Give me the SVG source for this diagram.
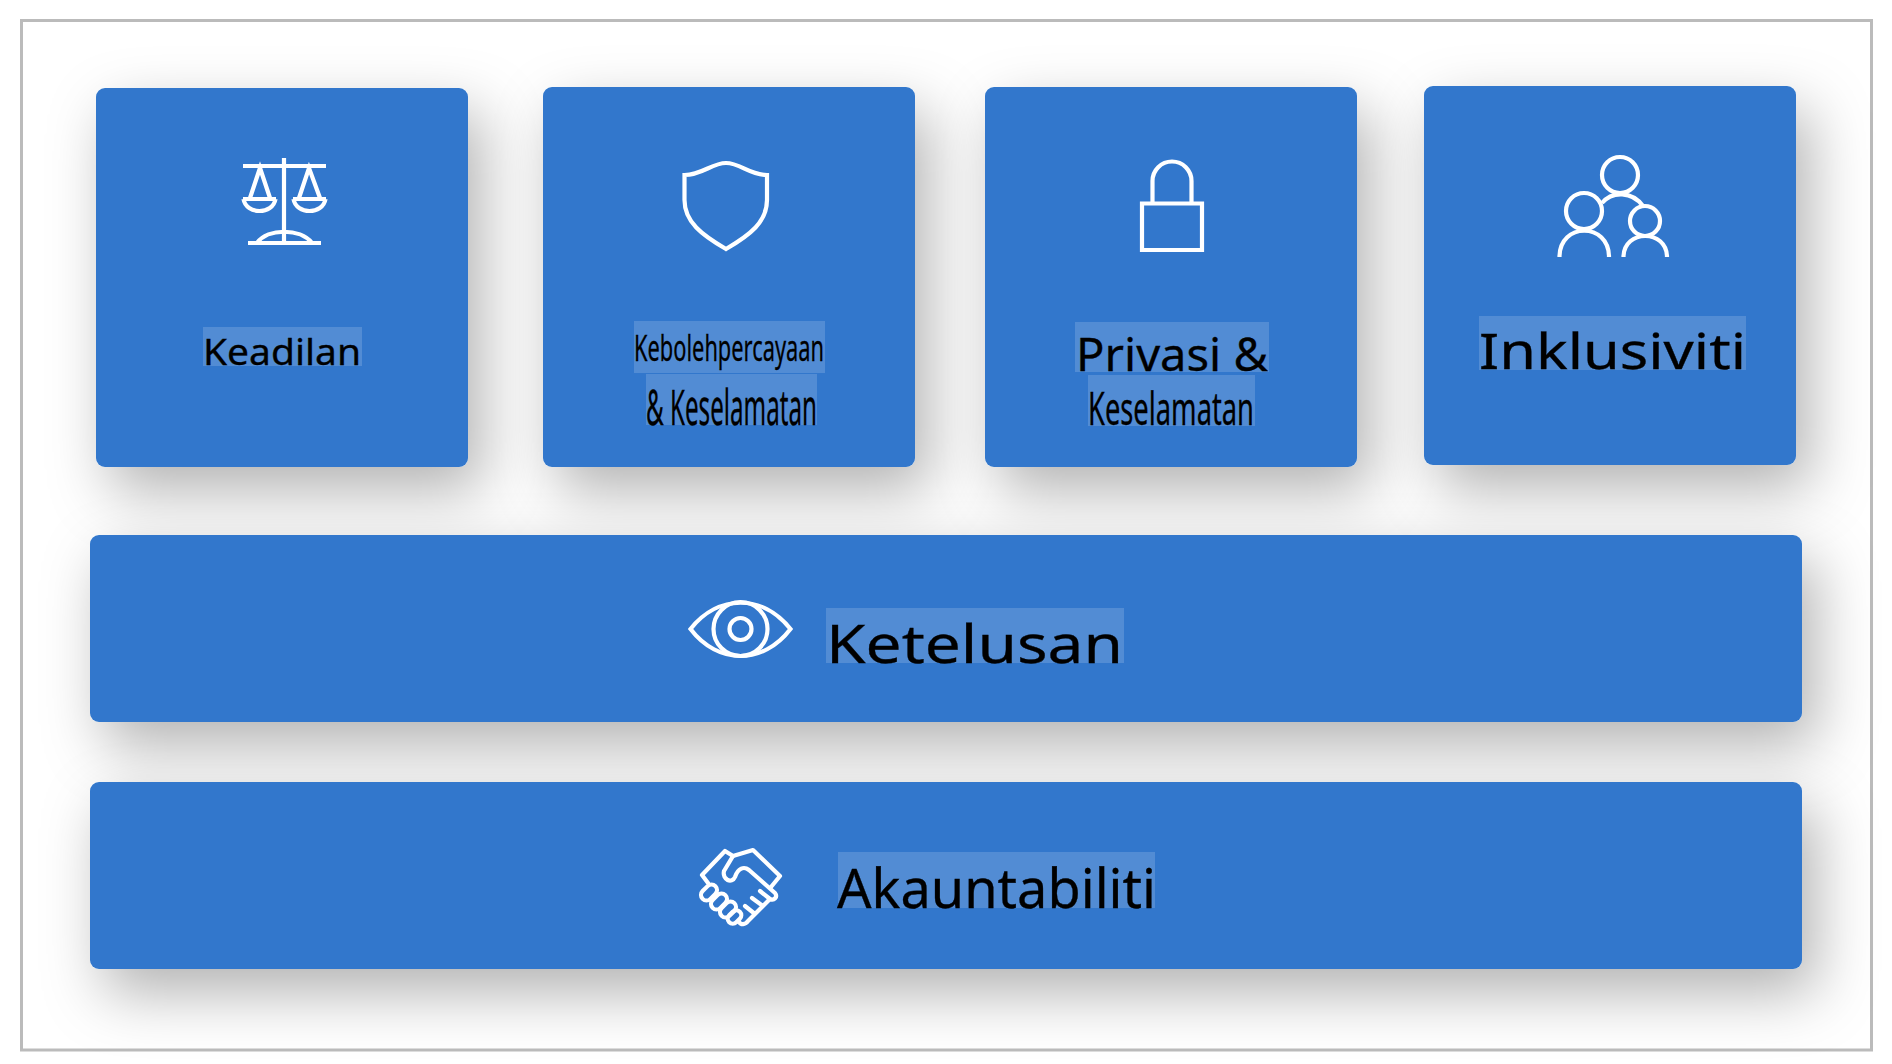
<svg xmlns="http://www.w3.org/2000/svg" width="1892" height="1064" viewBox="0 0 1892 1064">
<defs>
<filter id="sh" x="-30%" y="-60%" width="160%" height="280%"><feDropShadow dx="14" dy="24" stdDeviation="30" flood-color="#000" flood-opacity="0.3"/></filter>
</defs>
<style>
.card{fill:#3177cc;filter:url(#sh)}
.hl{fill:#fff;fill-opacity:.16}
.ic{fill:none;stroke:#fff;stroke-width:4.2}
text{font-family:"Noto Sans","Open Sans",sans-serif;fill:#000;stroke:#000;stroke-width:.3}
</style>
<rect width="1892" height="1064" fill="#fff"/>
<rect x="21.500" y="20.500" width="1850" height="1029.500" fill="none" stroke="#bbb" stroke-width="3"/>
<g id="keadilan">
<rect class="card" x="96" y="88" width="372" height="379" rx="9"/>
<rect class="hl" x="203" y="327" width="159" height="39"/>
<path class="ic" d="M243 166H326M284 158V242M248 243H321M257 243C268 228 300 228 312 243M243 199H276M293 199H326M243.500 199C246 215 273 215 275.500 199M293.500 199C296 215 323 215 325.500 199M250 198L260 168L270 198M299 198L309 168L320 198"/>
<text x="203" y="365" font-size="36" textLength="158" lengthAdjust="spacingAndGlyphs">Keadilan</text>
</g>
<g id="kebolehpercayaan">
<rect class="card" x="543" y="87" width="372" height="380" rx="9"/>
<rect class="hl" x="634" y="321" width="191" height="52"/>
<rect class="hl" x="646" y="374" width="171" height="51"/>
<path class="ic" d="M684.500 175C702 175 712 163 726 163C740 163 750 175 767 175V200C767 222 750 235 726 249C702 235 684.500 222 684.500 200Z"/>
<text x="634" y="361" font-size="37" textLength="190" lengthAdjust="spacingAndGlyphs">Kebolehpercayaan</text>
<text x="646" y="425" font-size="49" textLength="171" lengthAdjust="spacingAndGlyphs">&amp; Keselamatan</text>
</g>
<g id="privasi">
<rect class="card" x="985" y="87" width="372" height="380" rx="9"/>
<rect class="hl" x="1075" y="322" width="194" height="50"/>
<rect class="hl" x="1088" y="375" width="167" height="51"/>
<path class="ic" d="M1142 203.500H1202V250H1142ZM1152.500 203V181A19.500 19.500 0 0 1 1191.500 181V203"/>
<text x="1076" y="371" font-size="45" textLength="192" lengthAdjust="spacingAndGlyphs">Privasi &amp;</text>
<text x="1088" y="425" font-size="45" textLength="166" lengthAdjust="spacingAndGlyphs">Keselamatan</text>
</g>
<g id="inklusiviti">
<rect class="card" x="1424" y="86" width="372" height="379" rx="9"/>
<rect class="hl" x="1479" y="316" width="267" height="54"/>
<g class="ic"><circle cx="1620" cy="175" r="18"/><circle cx="1584" cy="211" r="18"/><circle cx="1645" cy="221" r="15"/><path d="M1559.500 257C1559.500 222 1609 222 1609 257M1623.500 257C1623.500 229 1667 229 1667 257M1602 203C1612 191 1632 191 1643 206"/></g>
<text x="1479" y="369" font-size="49" textLength="267" lengthAdjust="spacingAndGlyphs">Inklusiviti</text>
</g>
<g id="ketelusan">
<rect class="card" x="90" y="535" width="1712" height="187" rx="9"/>
<rect class="hl" x="826" y="608" width="298" height="55"/>
<g class="ic"><path d="M690.500 629C718 594 763 594 790.500 629C763 665 718 665 690.500 629Z"/><circle cx="740.500" cy="629" r="27"/><circle cx="740.500" cy="629" r="11"/></g>
<text x="826" y="663" font-size="52" textLength="297" lengthAdjust="spacingAndGlyphs">Ketelusan</text>
</g>
<g id="akauntabiliti">
<rect class="card" x="90" y="782" width="1712" height="187" rx="9"/>
<rect class="hl" x="838" y="852" width="317" height="56"/>
<g class="ic" stroke-linejoin="round" stroke-linecap="round">
<path d="M708 883L702 875L725 851L733 856L753 850L780 876L771 887"/>
<path d="M733 856L724 871C722 880 732 884 735 877C738 868 744 866 749 870L775 893C778 897 774 901 770 899L760 891M770 899L763 906L752 898M763 906L755 914L745 906M755 914L748 921C745 925 741 925 739 922"/>
<rect x="700" y="887" width="18" height="11" rx="5.500" transform="rotate(-45 709 892.500)"/>
<rect x="710" y="896" width="18" height="11" rx="5.500" transform="rotate(-45 719 901.500)"/>
<rect x="719" y="904" width="18" height="11" rx="5.500" transform="rotate(-45 728 909.500)"/>
<rect x="727" y="912" width="15" height="10" rx="5" transform="rotate(-45 734.500 917)"/>
</g>
<text x="837" y="908" font-size="54" textLength="319" lengthAdjust="spacingAndGlyphs">Akauntabiliti</text>
</g>
</svg>
